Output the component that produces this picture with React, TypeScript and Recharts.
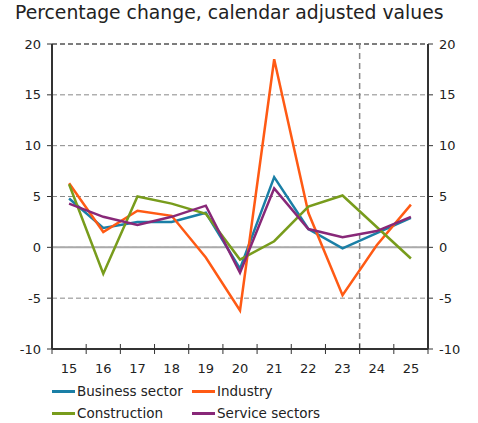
import React from "react";
import { LineChart, Line, XAxis, YAxis, CartesianGrid, ReferenceLine } from "recharts";

const years = [15, 16, 17, 18, 19, 20, 21, 22, 23, 24, 25];
const businessSector = [4.8, 1.9, 2.5, 2.5, 3.4, -2.1, 6.9, 1.8, -0.1, 1.4, 2.9];
const industry = [6.3, 1.5, 3.6, 3.1, -1.0, -6.2, 18.5, 3.4, -4.7, 0.2, 4.2];
const construction = [6.2, -2.6, 5.0, 4.3, 3.3, -1.2, 0.6, 4.0, 5.1, 2.0, -1.1];
const serviceSectors = [4.3, 3.0, 2.2, 3.0, 4.1, -2.5, 5.8, 1.8, 1.0, 1.6, 3.0];
const yTicks = [-10, -5, 0, 5, 10, 15, 20];
const xTicks = [14.5, 15, 15.5, 16, 16.5, 17, 17.5, 18, 18.5, 19, 19.5, 20, 20.5, 21, 21.5, 22, 22.5, 23, 23.5, 24, 24.5, 25, 25.5];

const series = [
  { key: "business", name: "Business sector", color: "#1a7fa6", values: businessSector },
  { key: "industry", name: "Industry", color: "#ff5a14", values: industry },
  { key: "construction", name: "Construction", color: "#789c1c", values: construction },
  { key: "service", name: "Service sectors", color: "#882878", values: serviceSectors },
];

const data = years.map((y, i) => {
  const row: any = { year: y };
  series.forEach((s) => (row[s.key] = s.values[i]));
  return row;
});

const FONT = "'DejaVu Sans', Verdana, sans-serif";

const XTick = (props: any) => {
  const { x, y, payload } = props;
  const v = payload.value;
  if (Math.abs(v - Math.round(v)) > 0.01) {
    return <line x1={x} x2={x} y1={y - 5} y2={y + 5} stroke="#333" strokeWidth={1} />;
  }
  return (
    <text x={x} y={y + 24} textAnchor="middle" fontSize={13} fontFamily={FONT} fill="#222">
      {v}
    </text>
  );
};

const LegendBlock = () => (
  <div style={{ position: "absolute", left: 52, top: 383, width: 400, height: 44, fontFamily: FONT, fontSize: 13.5, color: "#222" }}>
    {series.map((s, i) => {
      const col = i % 2;
      const row = Math.floor(i / 2);
      return (
        <div key={s.key} style={{ position: "absolute", left: col * 140, top: row * 22, display: "flex", alignItems: "center", whiteSpace: "nowrap" }}>
          <div style={{ width: 23, height: 3, background: s.color, marginRight: 2 }} />
          <span>{s.name}</span>
        </div>
      );
    })}
  </div>
);

export default function App() {
  return (
    <div style={{ position: "absolute", left: 0, top: 0, width: 478, height: 423, background: "#fff" }}>
      <div style={{ position: "absolute", left: 15, top: 2, fontFamily: FONT, fontSize: 18.8, color: "#222", whiteSpace: "nowrap" }}>
        Percentage change, calendar adjusted values
      </div>
      <LineChart width={478} height={423} data={data} margin={{ top: 44, right: 0, bottom: 44, left: 0 }}>
        <CartesianGrid vertical={false} stroke="#888" strokeDasharray="5 3" yAxisId="left" />
        <XAxis
          dataKey="year"
          type="number"
          domain={[14.5, 25.5]}
          ticks={xTicks}
          interval={0}
          height={30}
          axisLine={{ stroke: "#333", strokeWidth: 2 }}
          tickLine={false}
          tickSize={0}
          tickMargin={0}
          tick={<XTick />}
        />
        <YAxis
          yAxisId="left"
          orientation="left"
          domain={[-10, 20]}
          ticks={yTicks}
          width={52}
          axisLine={{ stroke: "#333", strokeWidth: 2 }}
          tickLine={{ stroke: "#333" }}
          tickSize={5}
          tickMargin={6}
          tick={{ fontSize: 13, fontFamily: FONT, fill: "#222" }}
        />
        <YAxis
          yAxisId="right"
          orientation="right"
          domain={[-10, 20]}
          ticks={yTicks}
          width={50}
          axisLine={{ stroke: "#333", strokeWidth: 2 }}
          tickLine={{ stroke: "#333" }}
          tickSize={5}
          tickMargin={6}
          tick={{ fontSize: 13, fontFamily: FONT, fill: "#222" }}
        />
        <ReferenceLine yAxisId="left" y={0} stroke="#aaa" strokeWidth={2} />
        <ReferenceLine yAxisId="left" y={20} stroke="#666" strokeWidth={1.5} strokeDasharray="5 3" />
        <ReferenceLine yAxisId="left" x={23.5} stroke="#888" strokeWidth={1.5} strokeDasharray="6 4" />
        {series.map((s, i) => (
          <Line
            key={s.key}
            yAxisId={i === 3 ? "right" : "left"}
            type="linear"
            dataKey={s.key}
            name={s.name}
            stroke={s.color}
            strokeWidth={2.5}
            dot={false}
            isAnimationActive={false}
          />
        ))}
      </LineChart>
      <LegendBlock />
    </div>
  );
}
